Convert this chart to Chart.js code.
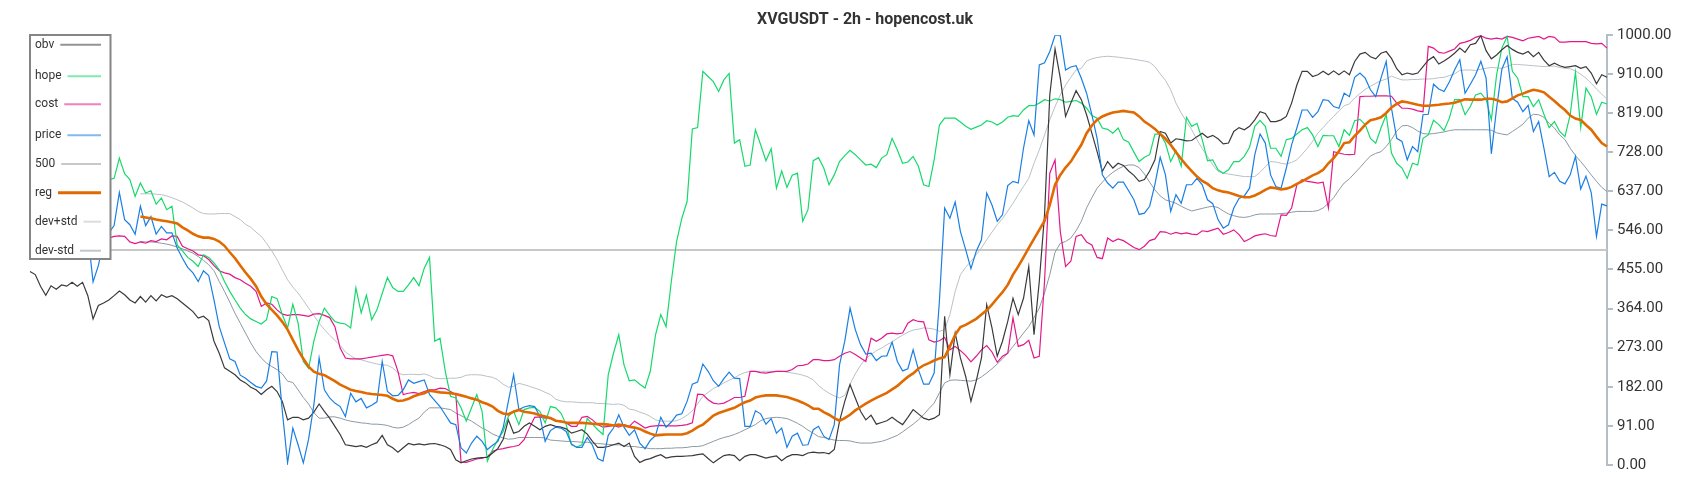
<!DOCTYPE html>
<html>
<head>
<meta charset="utf-8">
<title>XVGUSDT - 2h - hopencost.uk</title>
<script src="https://cdn.jsdelivr.net/npm/chart.js@4.4.1/dist/chart.umd.min.js"></script>
<style>
  html, body { margin: 0; padding: 0; background: #fff; }
  #wrap { width: 1700px; height: 500px; position: relative; }
</style>
</head>
<body>
<div id="wrap"><canvas id="chart"></canvas></div>
<script>
// y axis ticks as shown on the right axis
const yTicks = [0, 91, 182, 273, 364, 455, 546, 637, 728, 819, 910, 1000];

const obv = [
  450,443,416,395,417,409,419,416,425,416,425,394,340,371,377,384,394,405,396,384,
  377,392,379,394,382,396,390,394,387,377,367,357,342,346,336,288,260,226,218,210,
  198,191,181,175,164,175,183,171,148,105,
  111,111,105,109,123,142,125,109,90,71,47,45,43,45,41,47,52,69,47,40,
  30,40,50,47,49,47,49,50,47,43,36,12,5,10,14,16,17,18,28,38,
  59,105,74,78,90,98,90,82,90,94,
  90,88,84,74,78,82,72,55,41,41,43,47,51,43,51,20,6,12,15,20,
  24,16,19,20,20,21,22,24,26,15,5,14,22,24,22,10,20,24,24,20,
  16,19,21,10,19,24,24,22,28,30,
  28,29,26,36,102,148,187,156,125,105,116,95,99,103,111,102,94,111,129,119,
  109,105,109,117,346,210,307,249,206,148,195,249,373,319,253,288,334,388,350,388,
  462,303,427,582,861,968,900,811,842,871,
  850,815,772,729,683,706,691,702,697,684,674,660,664,684,710,776,772,749,759,757,
  754,755,764,772,762,767,759,747,749,776,785,780,788,803,822,818,799,799,803,811,
  842,884,916,916,904,908,916,908,917,908,917,
  908,939,956,960,950,945,958,962,946,922,908,912,909,912,927,942,950,933,940,948,
  958,970,960,978,981,999,964,945,954,966,976,967,960,956,962,950,960,942,929,935,
  929,925,927,929,923,927,912,887,908,902
];

const hope = [
  640,650,660,655,645,650,665,670,660,650,655,665,670,660,665,664,667,714,678,664,
  625,656,633,638,607,621,594,602,512,498,483,474,462,489,483,470,454,427,404,384,
  365,350,340,334,328,338,392,387,350,319,
  374,330,241,225,288,334,365,348,334,330,328,319,412,354,395,338,361,399,436,413,
  404,404,419,436,417,458,483,288,295,218,160,156,133,102,133,164,125,9,36,59,
  78,113,125,94,129,133,134,125,98,136,
  133,121,94,47,42,47,108,95,82,71,210,260,303,233,196,198,188,179,218,303,
  350,322,427,520,574,613,782,785,916,904,892,869,896,911,749,757,695,698,780,745,
  708,736,644,684,646,674,679,567,594,708,
  715,691,652,675,706,720,732,722,710,698,700,692,714,722,760,733,702,705,718,695,
  652,648,710,791,807,807,807,798,788,781,786,791,801,798,791,798,809,813,811,826,
  836,836,842,850,847,852,850,844,846,848,
  842,830,813,807,784,781,772,784,757,751,728,706,716,722,770,770,749,706,731,695,
  809,788,795,757,708,710,687,679,687,706,706,718,739,788,802,788,737,737,718,757,
  760,770,780,785,768,741,767,766,766,741,780,
  767,801,804,792,760,749,784,815,726,702,691,667,702,698,760,768,802,792,778,807,
  850,850,815,834,861,865,850,803,908,970,997,916,900,857,857,834,850,816,785,799,
  776,764,815,914,785,877,857,816,844,840
];

const cost = [
  528,530,532,530,527,529,531,533,530,528,531,534,532,530,529,528,532,533,532,519,
  515,519,516,522,520,526,524,533,532,509,503,498,489,487,478,464,452,447,444,436,
  431,423,416,404,369,377,374,361,351,348,
  350,350,348,346,351,352,348,343,322,272,249,247,247,247,249,251,253,255,257,254,
  218,164,167,169,166,171,175,175,179,178,171,164,7,6,10,14,16,19,32,36,
  38,41,43,46,59,86,111,112,109,111,
  104,102,98,90,90,111,113,105,94,88,90,92,88,94,90,102,94,86,90,91,
  92,91,91,91,92,94,98,165,164,152,144,142,144,150,157,157,160,218,218,215,
  214,216,218,218,218,222,231,232,235,245,
  245,243,243,245,253,260,264,257,249,241,295,288,295,305,307,305,307,330,338,334,
  333,291,286,289,297,268,276,266,255,240,253,268,278,263,239,253,260,342,276,280,
  290,249,253,427,679,710,543,462,474,532,
  536,519,512,483,480,528,520,526,522,514,506,501,509,522,526,543,542,537,541,538,
  540,537,536,545,543,547,551,537,541,547,536,520,526,533,536,538,534,532,582,581,
  598,652,664,660,658,656,658,598,729,726,723,
  722,723,857,858,858,859,859,859,858,842,830,830,828,824,822,974,970,960,958,963,
  968,981,984,988,995,999,993,991,993,991,997,995,991,987,993,995,997,991,997,995,
  984,984,985,985,985,985,981,980,981,970
];

const price = [
  560,575,590,580,570,585,600,590,575,580,570,536,426,464,520,540,557,634,571,559,
  537,602,557,578,537,555,540,540,505,481,460,447,427,452,441,384,322,284,247,241,
  209,202,192,183,179,195,264,263,125,5,
  86,47,5,60,140,249,175,156,144,136,113,167,147,155,133,139,147,241,171,161,
  162,175,198,190,194,198,164,150,136,117,98,94,40,28,51,67,55,36,46,55,
  86,148,210,129,135,138,136,113,55,80,
  88,86,78,49,41,41,64,46,15,9,69,86,117,88,69,82,51,38,57,69,
  111,88,100,116,119,148,188,193,235,218,196,183,201,216,202,201,90,90,126,119,
  95,108,74,86,41,67,74,46,47,82,
  90,67,59,94,233,288,365,315,280,258,260,243,253,254,286,241,219,224,268,222,
  188,188,214,381,598,574,612,543,501,457,497,524,633,605,567,582,650,660,656,737,
  801,768,931,936,962,1000,999,919,926,929,
  900,865,815,760,675,656,644,658,658,638,617,583,586,602,653,716,675,590,629,609,
  652,652,667,652,617,608,571,551,559,598,620,626,644,722,770,749,675,648,644,691,
  745,784,826,826,809,822,850,848,834,830,865,
  857,902,912,900,873,857,900,939,830,760,753,710,741,729,815,816,886,875,869,891,
  919,943,865,886,908,939,900,724,830,921,950,853,844,822,837,776,799,737,671,681,
  660,654,675,718,642,672,634,532,607,603
];

const reg = [
  null,null,null,null,null,null,null,null,null,null,null,null,null,null,null,null,null,null,null,null,
  null,578,576,574,571,569,567,565,562,553,546,538,532,529,529,526,520,510,495,481,
  464,448,433,416,392,374,361,348,333,315,
  291,268,247,229,217,212,209,202,195,187,181,175,172,170,167,165,164,163,161,154,
  149,150,154,160,164,167,173,171,169,168,167,165,162,159,155,152,146,142,136,126,
  120,118,124,128,124,122,120,116,113,109,
  103,101,99,98,98,98,97,96,95,95,94,92,94,92,89,87,84,78,73,69,
  70,71,71,71,71,74,80,88,94,104,115,121,125,129,133,140,146,150,157,160,
  162,162,162,160,158,154,150,145,139,131,
  131,123,117,109,103,109,117,127,135,143,150,156,162,168,176,184,195,205,213,224,
  232,237,243,248,251,276,303,321,326,333,340,350,360,373,388,402,419,443,462,483,
  505,526,547,568,605,652,675,692,706,726,
  745,772,790,803,811,816,820,822,824,822,820,811,799,791,782,770,759,745,728,712,
  697,684,671,661,654,644,639,636,634,630,626,623,623,627,633,640,646,644,641,643,
  647,654,660,667,674,679,687,702,714,730,749,
  751,766,778,792,802,805,809,819,832,840,846,844,841,838,836,836,837,838,840,841,
  843,847,851,850,850,850,852,852,849,844,846,853,860,864,869,873,871,867,857,847,
  836,826,813,806,803,791,780,764,749,741
];

const devPlus = [
  null,null,null,null,null,null,null,null,null,null,null,null,null,null,null,null,null,null,null,null,
  null,631,631,631,630,629,626,622,617,612,605,598,590,585,584,584,585,585,585,578,
  571,560,553,542,532,516,498,478,454,431,
  414,400,383,365,348,330,315,302,290,278,263,254,247,245,241,238,235,233,232,226,
  214,210,211,211,210,212,208,202,201,201,202,202,204,209,210,210,209,206,204,198,
  188,181,183,190,187,183,179,175,169,164,
  153,149,147,147,146,145,145,145,143,143,142,141,142,139,130,128,123,119,113,105,
  102,102,102,103,108,116,126,142,160,169,178,184,191,197,203,210,215,218,218,218,
  218,218,218,218,216,214,212,209,205,198,
  185,175,167,161,156,162,188,212,232,247,257,266,272,280,286,295,302,309,314,316,
  319,318,316,311,315,350,404,443,460,474,489,505,524,542,559,573,591,609,629,648,
  667,702,733,768,803,834,861,884,902,919,
  923,940,945,948,950,951,950,949,947,946,944,942,940,937,927,910,895,873,842,819,
  799,780,757,736,718,698,683,679,677,675,673,671,671,671,681,694,706,705,702,700,
  704,710,723,737,753,772,785,799,811,824,836,
  840,854,864,874,881,888,894,898,905,900,896,896,897,897,898,898,899,901,902,906,
  910,918,919,919,918,921,923,925,924,923,927,932,932,931,930,929,928,927,928,928,
  925,923,922,917,909,900,888,875,863,851
];

const devMinus = [
  null,null,null,null,null,null,null,null,null,null,null,null,null,null,null,null,null,null,null,null,
  null,520,519,519,518,516,514,511,507,503,498,493,485,476,466,452,427,404,379,353,
  330,307,284,264,249,237,229,222,212,195,
  192,175,157,142,122,109,109,112,112,109,105,102,100,98,97,95,95,94,92,88,
  86,88,94,102,109,123,133,133,133,131,129,121,115,108,102,94,86,80,72,67,
  63,60,61,64,64,64,64,64,63,58,
  57,56,55,55,54,53,53,51,50,49,48,47,47,45,43,43,41,40,38,38,
  38,39,39,40,40,41,43,43,45,50,55,60,64,67,71,76,82,88,94,103,
  108,110,111,110,108,103,97,90,81,74,
  66,64,61,58,57,57,56,53,51,51,51,53,55,59,64,69,77,86,95,105,
  117,131,144,168,191,197,198,197,196,195,198,205,214,224,235,247,260,276,291,307,
  322,343,365,400,443,495,516,520,528,545,
  567,598,622,644,658,671,681,689,695,698,698,692,677,658,640,626,617,613,609,602,
  596,591,594,597,600,602,599,591,584,580,577,576,578,582,584,584,584,584,585,586,
  588,590,590,590,590,592,598,609,622,640,656,
  666,679,692,706,719,725,729,741,757,777,789,790,785,777,771,770,771,773,775,778,
  780,780,780,780,780,780,780,779,773,770,768,776,784,793,807,816,815,809,795,784,
  768,757,737,720,706,691,675,660,646,636
];

const labels = obv.map((_, i) => String(i + 1));
const level500 = new Array(obv.length).fill(500);

// legend row centres (px)
const legendRows = [44.7, 76.3, 104.3, 135.3, 164, 192.7, 221.7, 250.7];

const boxLegend = {
  id: "boxLegend",
  afterDraw(chart) {
    const ctx = chart.ctx;
    ctx.save();
    ctx.fillStyle = "#ffffff";
    ctx.fillRect(30, 35, 80.5, 224);
    ctx.strokeStyle = "#858585";
    ctx.lineWidth = 2;
    ctx.strokeRect(30, 35, 80.5, 224);
    ctx.font = "12px Roboto";
    ctx.textBaseline = "middle";
    chart.data.datasets.forEach((ds, i) => {
      const y = legendRows[i];
      ctx.globalAlpha = 1;
      ctx.fillStyle = "#333";
      ctx.fillText(ds.label, 35, y);
      const w = ctx.measureText(ds.label).width;
      ctx.globalAlpha = ds.label === "reg" || ds.label === "500" ? 1 : 0.55;
      ctx.strokeStyle = ds.borderColor;
      ctx.lineWidth = ds.label === "reg" ? 3 : 2;
      ctx.beginPath();
      ctx.moveTo(35 + w + 6, y);
      ctx.lineTo(101, y);
      ctx.stroke();
    });
    ctx.restore();
  },
};

function line(label, data, color, width, order) {
  return {
    label: label,
    data: data,
    borderColor: color,
    backgroundColor: color,
    borderWidth: width,
    pointRadius: 0,
    pointHoverRadius: 0,
    fill: false,
    tension: 0,
    order: order,
  };
}

const ctx = document.getElementById("chart").getContext("2d");
new Chart(ctx, {
  type: "line",
  data: {
    labels: labels,
    datasets: [
      line("obv", obv, "#3a3a3a", 1.2, 2),
      line("hope", hope, "#16d96c", 1.2, 3),
      line("cost", cost, "#e3188a", 1.2, 4),
      line("price", price, "#1a7fe3", 1.2, 1),
      line("500", level500, "#c8c8c8", 2, 9),
      line("reg", reg, "#e06a00", 2.6, 0),
      line("dev+std", devPlus, "#b9c1c7", 1, 6),
      line("dev-std", devMinus, "#8d99a2", 1, 5),
    ],
  },
  options: {
    responsive: true,
    maintainAspectRatio: false,
    animation: false,
    events: [],
    layout: { padding: { left: 30, right: 0, top: 0, bottom: 35 } },
    plugins: {
      legend: { display: false },
      tooltip: { enabled: false },
      title: {
        display: true,
        text: "XVGUSDT - 2h - hopencost.uk",
        color: "#333",
        font: { family: "Roboto", size: 16, weight: "bold" },
        padding: { top: 10, bottom: 6 },
      },
    },
    scales: {
      x: { display: false },
      y: {
        position: "right",
        min: 0,
        max: 1000,
        afterBuildTicks: (scale) => {
          scale.ticks = yTicks.map((v) => ({ value: v }));
        },
        afterFit: (scale) => {
          scale.width = 93;
        },
        ticks: {
          color: "#333",
          padding: 4,
          font: { family: "Roboto", size: 15 },
          callback: (v) => Number(v).toFixed(2),
        },
        grid: {
          drawOnChartArea: false,
          drawTicks: true,
          tickLength: 6,
          color: "#b4bec6",
          lineWidth: 2,
        },
        border: { color: "#b4bec6", width: 2 },
      },
    },
  },
  plugins: [boxLegend],
});
</script>
</body>
</html>
